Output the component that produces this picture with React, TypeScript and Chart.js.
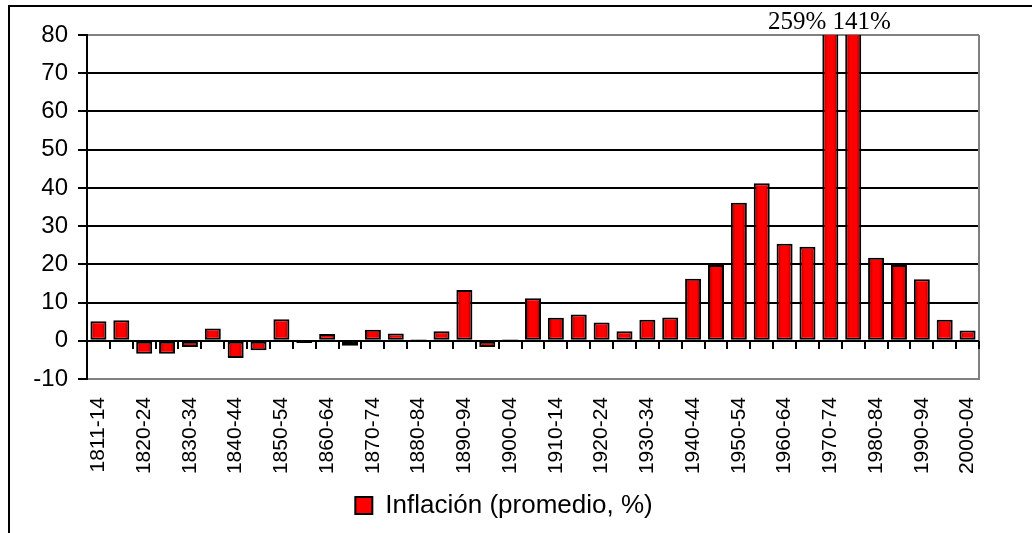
import { useEffect, useRef } from "react";
import { Chart, registerables } from "chart.js";

Chart.register(...registerables);

const categories = [
  "1811-14", "1815-19", "1820-24", "1825-29", "1830-34", "1835-39", "1840-44", "1845-49",
  "1850-54", "1855-59", "1860-64", "1865-69", "1870-74", "1875-79", "1880-84", "1885-89",
  "1890-94", "1895-99", "1900-04", "1905-09", "1910-14", "1915-19", "1920-24", "1925-29",
  "1930-34", "1935-39", "1940-44", "1945-49", "1950-54", "1955-59", "1960-64", "1965-69",
  "1970-74", "1975-79", "1980-84", "1985-89", "1990-94", "1995-99", "2000-04",
];

const inflation = [
  5.1, 5.4, -3.4, -3.4, -1.6, 3.2, -4.5, -2.5,
  5.6, -0.6, 1.8, -1.3, 2.9, 1.9, 0.4, 2.5,
  13.3, -1.6, 0.4, 11.1, 6.0, 6.9, 4.8, 2.5,
  5.5, 6.1, 16.2, 19.8, 36.1, 41.2, 25.4, 24.6,
  259, 141, 21.7, 19.8, 16.1, 5.5, 2.7,
];

const seriesName = "Inflación (promedio, %)";
const yMin = -10;
const yMax = 80;
const yStep = 10;
const overflowText = "259% 141%";
const overflowIndex = 32;

const SANS = "'Liberation Sans', Arial, sans-serif";
const SERIF = "'Liberation Serif', 'Times New Roman', serif";
const RED = "#ff0000";
const DARK_RED = "#8a0000";

function barFill(c: any) {
  const chart = c.chart;
  const xs = chart.scales && chart.scales.x;
  if (c.type !== "data" || !xs || !chart.chartArea || c.dataIndex === undefined) return RED;
  const cx = xs.getPixelForValue(c.dataIndex);
  const half = ((xs.getPixelForValue(1) - xs.getPixelForValue(0)) * 0.7) / 2;
  const g = chart.ctx.createLinearGradient(cx - half, 0, cx + half, 0);
  g.addColorStop(0, DARK_RED);
  g.addColorStop(0.3, RED);
  g.addColorStop(0.7, RED);
  g.addColorStop(1, DARK_RED);
  return g;
}

const decorPlugin = {
  id: "decor",
  beforeDraw(chart: any) {
    const ctx = chart.ctx;
    ctx.save();
    ctx.fillStyle = "#ffffff";
    ctx.fillRect(0, 0, chart.width, chart.height);
    ctx.strokeStyle = "#000000";
    ctx.lineWidth = 2;
    ctx.beginPath();
    ctx.moveTo(9, chart.height + 2);
    ctx.lineTo(9, 6);
    ctx.lineTo(chart.width + 2, 6);
    ctx.stroke();
    ctx.restore();
  },
  afterDatasetsDraw(chart: any) {
    const { ctx, chartArea, scales } = chart;
    const xs = scales.x;
    const ys = scales.y;
    ctx.save();
    ctx.strokeStyle = "#808080";
    ctx.lineWidth = 2;
    ctx.beginPath();
    ctx.moveTo(chartArea.right, chartArea.top);
    ctx.lineTo(chartArea.right, chartArea.bottom + 1);
    ctx.stroke();
    const y0 = Math.round(ys.getPixelForValue(0));
    ctx.strokeStyle = "#000000";
    ctx.lineWidth = 2;
    ctx.beginPath();
    ctx.moveTo(chartArea.left, y0);
    ctx.lineTo(chartArea.right, y0);
    ctx.stroke();
    const w = xs.getPixelForValue(1) - xs.getPixelForValue(0);
    const x0 = xs.getPixelForValue(0);
    ctx.beginPath();
    for (let i = 1; i <= categories.length; i++) {
      const xb = Math.round(x0 + (i - 0.5) * w);
      ctx.moveTo(xb, y0);
      ctx.lineTo(xb, y0 + 8);
    }
    ctx.stroke();
    ctx.fillStyle = "#000000";
    ctx.font = `25px ${SERIF}`;
    ctx.textAlign = "center";
    ctx.textBaseline = "alphabetic";
    ctx.fillText(overflowText, xs.getPixelForValue(overflowIndex) - 1, 29);
    ctx.restore();
  },
};

export default function App() {
  const ref = useRef<HTMLCanvasElement | null>(null);

  useEffect(() => {
    if (!ref.current) return;
    const chart = new Chart(ref.current, {
      type: "bar",
      data: {
        labels: categories,
        datasets: [
          {
            label: seriesName,
            data: inflation,
            backgroundColor: barFill,
            borderColor: "#000000",
            borderWidth: 2,
            borderSkipped: false,
            barPercentage: 0.7,
            categoryPercentage: 1,
          },
        ],
      },
      options: {
        responsive: false,
        animation: false,
        devicePixelRatio: 1,
        layout: { padding: { left: 29, right: 53, top: 35, bottom: 4.5 } },
        plugins: {
          tooltip: { enabled: false },
          legend: {
            position: "bottom",
            labels: {
              color: "#000000",
              font: { family: SANS, size: 26 },
              boxWidth: 17,
              boxHeight: 17,
              padding: 10,
              generateLabels: (ch: any) =>
                Chart.defaults.plugins.legend.labels
                  .generateLabels(ch)
                  .map((it: any) => ({ ...it, fillStyle: RED, strokeStyle: "#000000", lineWidth: 2 })),
            },
          },
        },
        scales: {
          x: {
            grid: { display: false, drawTicks: false },
            border: { display: false },
            ticks: {
              autoSkip: false,
              maxRotation: 90,
              minRotation: 90,
              padding: 18,
              color: "#000000",
              font: { family: SANS, size: 21 },
              callback: (_v: any, i: number) => (i % 2 === 0 ? categories[i] : ""),
            },
            afterFit: (s: any) => {
              s.height = 103.5;
            },
          },
          y: {
            min: yMin,
            max: yMax,
            ticks: {
              stepSize: yStep,
              padding: 10,
              color: "#000000",
              font: { family: SANS, size: 24 },
            },
            grid: {
              color: (c: any) =>
                c.tick && (c.tick.value === yMax || c.tick.value === yMin) ? "#808080" : "#000000",
              lineWidth: 2,
              tickColor: "#000000",
              tickLength: 9,
            },
            border: { display: true, color: "#000000", width: 2 },
            afterFit: (s: any) => {
              s.width = 58;
            },
          },
        },
      },
      plugins: [decorPlugin],
    });
    return () => chart.destroy();
  }, []);

  return (
    <div style={{ position: "fixed", left: 0, top: 0, width: 1032, height: 533, background: "#fff" }}>
      <canvas ref={ref} width={1032} height={533} style={{ display: "block" }} />
    </div>
  );
}
